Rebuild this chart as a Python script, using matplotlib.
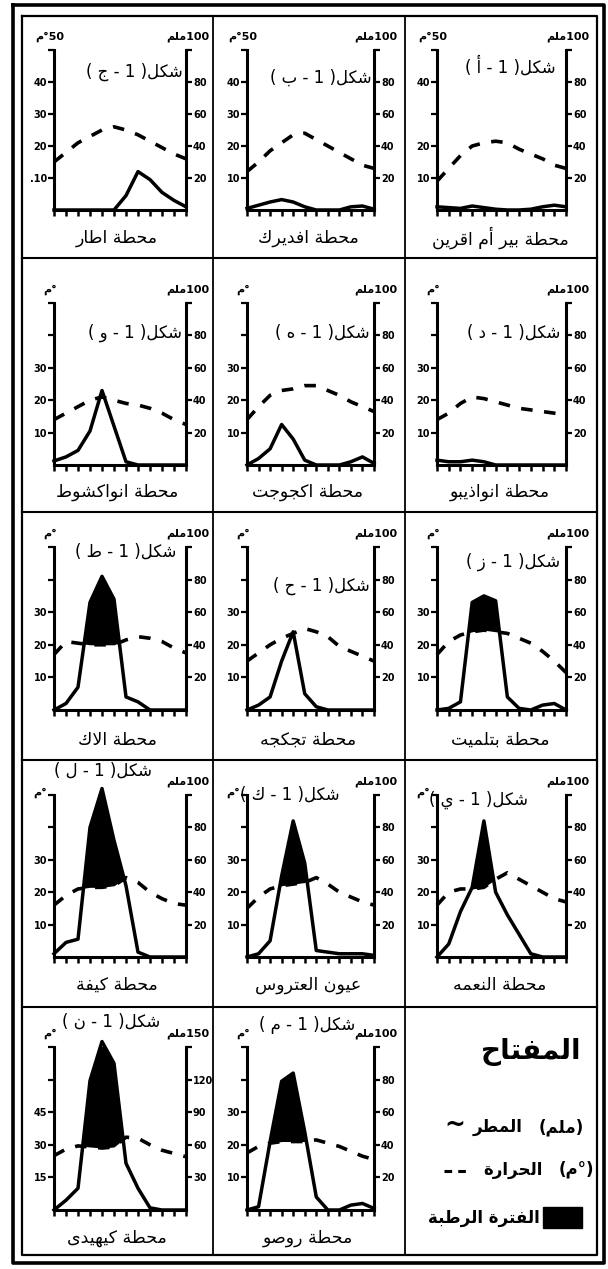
import numpy as np
import matplotlib.pyplot as plt
from matplotlib.patches import Rectangle

plt.rcParams['font.family'] = ['DejaVu Sans']

W, H = 608, 1269

months = np.arange(1, 13)

# temperature (deg C) and rain (mm), Jan..Dec
temp_atar = [15, 18, 21, 23, 25, 26, 25, 23.5, 21.5, 19.5, 17.5, 16]
rain_atar = [0, 0, 0, 0, 0, 0, 9, 24, 19, 11, 6, 2]
temp_fderik = [12, 15, 18.5, 21, 23.5, 24, 22, 20, 18, 16, 14, 13]
rain_fderik = [1, 3, 5, 6.5, 5, 2, 0, 0, 0, 2, 2.5, 0.5]
temp_bir = [9, 13, 17, 20, 21, 21.5, 21, 19, 17.5, 16, 14, 13]
rain_bir = [2, 1.5, 1, 2.5, 1.5, 0.5, 0, 0, 0.5, 2, 3, 2]

temp_nkc = [14, 16, 18, 20, 21, 20, 19, 18.5, 17.5, 16, 14, 12.5]
rain_nkc = [2.5, 5, 9, 21, 46, 24, 2, 0, 0, 0, 0, 0]
temp_akjoujt = [14, 18, 21.5, 23, 23.5, 24.5, 24.5, 23, 21.5, 19.5, 18, 16.5]
rain_akjoujt = [0, 4, 10, 25, 16, 3, 0, 0, 0, 2, 5, 1]
temp_ndb = [14, 16, 19, 21, 20.5, 19.5, 18.5, 17.5, 17, 16.5, 16, 15.5]
rain_ndb = [3, 2, 2, 3, 2, 0, 0, 0, 0, 0, 0, 0]

temp_aleg = [17, 21, 20.5, 20, 20, 20, 21.5, 22.5, 22, 21, 19, 17.5]
rain_aleg = [0, 4, 14, 66, 82, 68, 8, 5, 0, 0, 0, 0]
temp_tidjikja = [15, 17.5, 20, 22, 23.5, 25, 24, 22.5, 19.5, 18, 16.5, 15]
rain_tidjikja = [0, 3, 8, 30, 48, 10, 2, 0, 0, 0, 0, 0]
temp_boutilimit = [17, 21, 23, 24, 24.5, 24, 23.5, 22, 20.5, 18, 15, 11.5]
rain_boutilimit = [0, 1, 5, 66, 70, 67, 8, 1, 0, 3, 4, 0]

temp_kiffa = [16, 19, 21, 21.5, 21.5, 22, 24.5, 23, 20, 18, 16.5, 16]
rain_kiffa = [2, 9, 11, 80, 104, 72, 44, 3, 0, 0, 0, 0]
temp_ayoun = [15, 18.5, 21, 22, 22.5, 23, 24.5, 22.5, 20, 18.5, 17, 16]
rain_ayoun = [0, 2, 10, 50, 84, 58, 4, 3, 2, 2, 2, 1]
temp_nema = [16, 20, 21, 21, 21.5, 24, 26, 24, 22, 20, 18, 17]
rain_nema = [0, 8, 28, 43, 84, 40, 26, 14, 2, 0, 0, 0]

temp_kaedi = [25, 28, 29.5, 29, 28.5, 29, 33.5, 33, 30, 27.5, 26, 24.5]
rain_kaedi = [0, 9, 20, 119, 155, 135, 43, 20, 2, 0, 0, 0]
temp_rosso = [17.5, 19.5, 20.5, 21, 21, 21, 21.5, 20.5, 19.5, 18, 16.5, 15.5]
rain_rosso = [0, 2, 42, 79, 84, 48, 8, 0, 0, 3, 4, 1]

# matplotlib does no arabic shaping or right-to-left ordering, so a small one here
DUAL = {'ئ': 0xFE89, 'ب': 0xFE8F, 'ت': 0xFE95, 'ث': 0xFE99, 'ج': 0xFE9D,
        'ح': 0xFEA1, 'خ': 0xFEA5, 'س': 0xFEB1, 'ش': 0xFEB5, 'ص': 0xFEB9,
        'ض': 0xFEBD, 'ط': 0xFEC1, 'ظ': 0xFEC5, 'ع': 0xFEC9, 'غ': 0xFECD,
        'ف': 0xFED1, 'ق': 0xFED5, 'ك': 0xFED9, 'ل': 0xFEDD, 'م': 0xFEE1,
        'ن': 0xFEE5, 'ه': 0xFEE9, 'ي': 0xFEF1}
RIGHT = {'آ': 0xFE81, 'أ': 0xFE83, 'ؤ': 0xFE85, 'إ': 0xFE87, 'ا': 0xFE8D,
         'ة': 0xFE93, 'د': 0xFEA9, 'ذ': 0xFEAB, 'ر': 0xFEAD, 'ز': 0xFEAF,
         'و': 0xFEED, 'ى': 0xFEEF}
LAM_ALEF = {'آ': 0xFEF5, 'أ': 0xFEF7, 'إ': 0xFEF9, 'ا': 0xFEFB}


def ar(text):
    units = []
    i = 0
    while i < len(text):
        c = text[i]
        if c == 'ل' and i + 1 < len(text) and text[i + 1] in LAM_ALEF:
            units.append(('la', text[i + 1]))
            i += 2
        else:
            units.append(c)
            i += 1

    def joins_next(u):
        return u in DUAL

    def joins_prev(u):
        return isinstance(u, tuple) or u in DUAL or u in RIGHT

    out = []
    for k, u in enumerate(units):
        p = k > 0 and joins_next(units[k - 1]) and joins_prev(u)
        n = k < len(units) - 1 and joins_next(u) and joins_prev(units[k + 1])
        if isinstance(u, tuple):
            out.append(chr(LAM_ALEF[u[1]] + int(p)))
        elif u in DUAL:
            out.append(chr(DUAL[u] + {(0, 0): 0, (1, 0): 1, (0, 1): 2, (1, 1): 3}[(int(p), int(n))]))
        elif u in RIGHT:
            out.append(chr(RIGHT[u] + int(p)))
        else:
            out.append(u)
    out = out[::-1]
    res, run = [], []
    for c in out:
        if c.isdigit():
            run.append(c)
        else:
            res.extend(run[::-1])
            run = []
            res.append({'(': ')', ')': '('}.get(c, c))
    res.extend(run[::-1])
    return ''.join(res)


fig = plt.figure(figsize=(W / 100, H / 100), dpi=100)
bg = fig.add_axes([0, 0, 1, 1])
bg.set_xlim(0, W)
bg.set_ylim(H, 0)
bg.axis('off')

# frame and cell grid
bg.plot([13, 604, 604, 13, 13], [5, 5, 1263, 1263, 5], color='k', lw=2.6)
bg.plot([22, 597, 597, 22, 22], [16, 16, 1255, 1255, 16], color='k', lw=1.6)
for x in (213, 405):
    bg.plot([x, x], [16, 1255], color='k', lw=1.3)
for y in (258, 512, 760, 1007):
    bg.plot([22, 597], [y, y], color='k', lw=1.5)

row_axes = [(50, 210), (303, 465), (547, 710), (795, 957), (1047, 1210)]
row_label_y = [238, 492, 740, 985, 1238]
col_axes = [(54, 186), (247, 374), (437, 566)]
col_center = [117, 308, 500]

# (name, letter, temp, rain, row, col, top temp, left labels, right labels, title x, title y)
lab4 = ['10', '20', '30', '40', '']
lab3 = ['10', '20', '30', '', '']
rlab = ['20', '40', '60', '80', '']
panels = [
    ('محطة اطار', 'ج', temp_atar, rain_atar, 0, 0, 50, ['.10', '20', '30', '40', ''], rlab, 183, 72),
    ('محطة افديرك', 'ب', temp_fderik, rain_fderik, 0, 1, 50, lab4, rlab, 372, 78),
    ('محطة بير أم اقرين', 'أ', temp_bir, rain_bir, 0, 2, 50, ['10', '20', '', '40', ''], rlab, 556, 66),
    ('محطة انواكشوط', 'و', temp_nkc, rain_nkc, 1, 0, 50, lab3, rlab, 182, 333),
    ('محطة اكجوجت', 'ه', temp_akjoujt, rain_akjoujt, 1, 1, 50, lab3, rlab, 370, 333),
    ('محطة انواذيبو', 'د', temp_ndb, rain_ndb, 1, 2, 50, lab3, rlab, 560, 333),
    ('محطة الاك', 'ط', temp_aleg, rain_aleg, 2, 0, 50, lab3, rlab, 176, 552),
    ('محطة تجكجه', 'ح', temp_tidjikja, rain_tidjikja, 2, 1, 50, lab3, rlab, 370, 586),
    ('محطة بتلميت', 'ز', temp_boutilimit, rain_boutilimit, 2, 2, 50, lab3, rlab, 560, 562),
    ('محطة كيفة', 'ل', temp_kiffa, rain_kiffa, 3, 0, 50, lab3, rlab, 152, 771),
    ('عيون العتروس', 'ك', temp_ayoun, rain_ayoun, 3, 1, 50, lab3, rlab, 340, 795),
    ('محطة النعمه', 'ي', temp_nema, rain_nema, 3, 2, 50, lab3, rlab, 528, 800),
    ('محطة كيهيدى', 'ن', temp_kaedi, rain_kaedi, 4, 0, 75, ['15', '30', '45', '', ''], ['30', '60', '90', '120', ''], 160, 1022),
    ('محطة روصو', 'م', temp_rosso, rain_rosso, 4, 1, 50, lab3, rlab, 355, 1025),
]

for name, letter, temp, rain, row, col, tmax, llab, rl, tx, ty in panels:
    x0, x1 = col_axes[col]
    y0, y1 = row_axes[row]
    ax = fig.add_axes([x0 / W, 1 - y1 / H, (x1 - x0) / W, (y1 - y0) / H])
    ax.patch.set_alpha(0)
    ax.set_xlim(1, 12)
    ax.set_ylim(0, tmax)
    ax.plot(months, temp, color='k', lw=2.6, ls=(0, (3.2, 3.2)), clip_on=False)

    ax2 = ax.twinx()
    ax2.set_ylim(0, 2 * tmax)
    r = np.array(rain, dtype=float)
    t2 = 2 * np.array(temp, dtype=float)
    ax2.fill_between(months, t2, r, where=r > t2, interpolate=True, color='k', lw=0)
    ax2.plot(months, r, color='k', lw=2.5, clip_on=False, solid_joinstyle='round')

    for a in (ax, ax2):
        for s in a.spines.values():
            s.set_visible(False)
    for s, a in (('left', ax), ('bottom', ax), ('right', ax2)):
        a.spines[s].set_visible(True)
        a.spines[s].set_linewidth(2.2)

    step = tmax / 5
    ax.set_xticks(months)
    ax.set_xticklabels([])
    ax.tick_params(axis='x', direction='out', length=4, width=1.8)
    ax.set_yticks([step * k for k in range(1, 6)])
    ax.set_yticklabels(llab, fontsize=7, fontweight='bold')
    ax.tick_params(axis='y', direction='out', length=4, width=1.6, pad=1)
    ax2.set_yticks([2 * step * k for k in range(1, 6)])
    ax2.set_yticklabels(rl, fontsize=7, fontweight='bold')
    ax2.tick_params(axis='y', direction='out', length=4, width=1.6, pad=1)

    # unit labels above the two axes
    top_lab = '50°م' if row == 0 else '°م'
    if row == 3:
        lx, ly = x0 - 14, y0 - 2
    else:
        lx, ly = x0 - 4, y0 - 13
    bg.text(lx, ly, ar(top_lab), fontsize=8, fontweight='bold', ha='center', va='center')
    bg.text(x1 + 2, y0 - 13, ar('%dملم' % (2 * tmax)), fontsize=8, fontweight='bold', ha='center', va='center')

    bg.text(tx, ty, ar('شكل( 1 - %s )' % letter), fontsize=12, ha='right', va='center')
    bg.text(col_center[col], row_label_y[row], ar(name), fontsize=12.5, ha='center', va='center')

# key
bg.text(531, 1052, ar('المفتاح'), fontsize=20, fontweight='bold', ha='center', va='center')
bg.text(455, 1125, '~', fontsize=18, fontweight='bold', ha='center', va='center')
bg.text(523, 1127, ar('المطر'), fontsize=12, fontweight='bold', ha='right', va='center')
bg.text(584, 1127, ar('(ملم)'), fontsize=12, fontweight='bold', ha='right', va='center')
bg.plot([444, 468], [1171, 1171], color='k', lw=2.2, ls=(0, (2.5, 2)))
bg.text(543, 1170, ar('الحرارة'), fontsize=12, fontweight='bold', ha='right', va='center')
bg.text(594, 1170, ar('(°م)'), fontsize=12, fontweight='bold', ha='right', va='center')
bg.add_patch(Rectangle((543, 1207), 39, 21, color='k'))
bg.text(540, 1218, ar('الفترة الرطبة'), fontsize=12, fontweight='bold', ha='right', va='center')

fig.savefig('out.png', dpi=100)
